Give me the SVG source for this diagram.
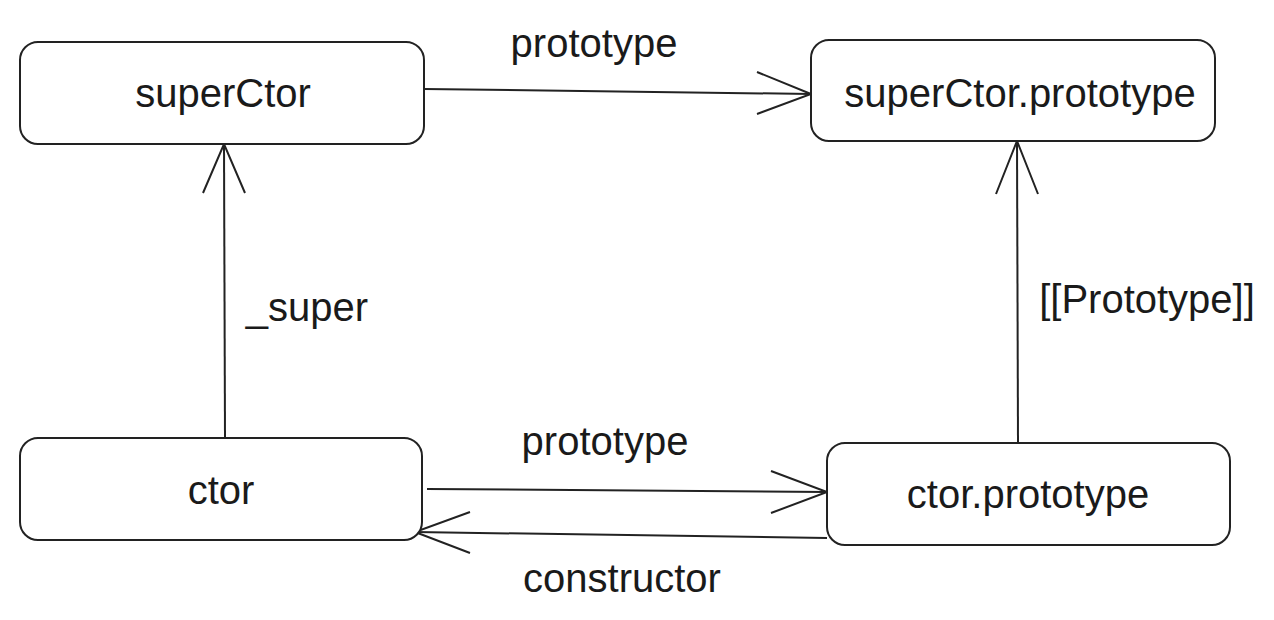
<svg xmlns="http://www.w3.org/2000/svg" width="1274" height="620" viewBox="0 0 1274 620">
<style>
.box{fill:#fff;stroke:#222;stroke-width:2}
.lbl{font-family:"Liberation Sans",Arial,sans-serif;font-size:40px;fill:#1a1a1a;text-anchor:middle}
.edge{fill:none;stroke:#222;stroke-width:2}
</style>
<rect width="1274" height="620" fill="#fff"/>
<g id="connectors">
  <g id="e-super-proto">
    <path class="edge" d="M424,89 L811,94"/>
    <path class="edge" d="M757,72 L811,94 L757,114"/>
  </g>
  <g id="e-ctor-super">
    <path class="edge" d="M225,438 L224,144"/>
    <path class="edge" d="M203,193 L224,144 L245,193"/>
  </g>
  <g id="e-ctor-ctorproto">
    <path class="edge" d="M427,489 L827,492"/>
    <path class="edge" d="M771,471 L827,492 L771,513"/>
  </g>
  <g id="e-ctorproto-ctor">
    <path class="edge" d="M827,538 L415,532"/>
    <path class="edge" d="M470,512 L415,532 L470,553"/>
  </g>
  <g id="e-ctorproto-superproto">
    <path class="edge" d="M1018,443 L1017,141"/>
    <path class="edge" d="M996,194 L1017,141 L1038,194"/>
  </g>
  <text class="lbl" x="594" y="57">prototype</text>
  <text class="lbl" x="307" y="321">_super</text>
  <text class="lbl" x="1147" y="313">[[Prototype]]</text>
  <text class="lbl" x="605" y="455">prototype</text>
  <text class="lbl" x="622" y="592">constructor</text>
</g>
<g id="superCtor">
  <rect class="box" x="20" y="42" width="404" height="102" rx="18"/>
  <text class="lbl" x="223" y="107">superCtor</text>
</g>
<g id="superCtorPrototype">
  <rect class="box" x="811" y="40" width="404" height="101" rx="18"/>
  <text class="lbl" x="1020" y="107">superCtor.prototype</text>
</g>
<g id="ctor">
  <rect class="box" x="20" y="438" width="402" height="102" rx="18"/>
  <text class="lbl" x="221" y="504">ctor</text>
</g>
<g id="ctorPrototype">
  <rect class="box" x="827" y="443" width="403" height="102" rx="18"/>
  <text class="lbl" x="1028" y="508">ctor.prototype</text>
</g>
</svg>
